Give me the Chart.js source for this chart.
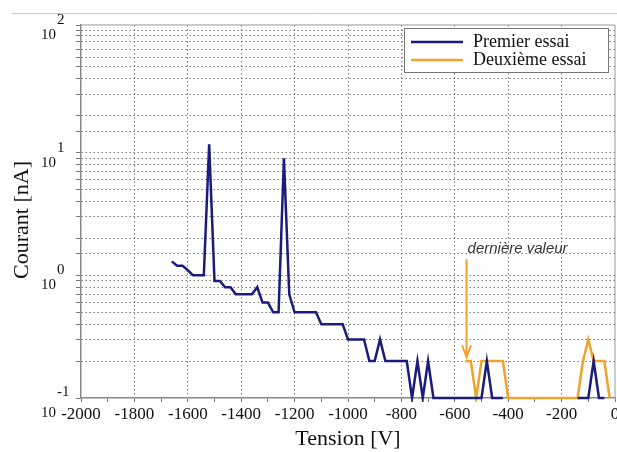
<!DOCTYPE html>
<html>
<head>
<meta charset="utf-8">
<script src="https://cdn.jsdelivr.net/npm/chart.js@4.4.0/dist/chart.umd.min.js"></script>
<style>
  html, body { margin: 0; padding: 0; background: #fff; }
</style>
</head>
<body>
<canvas id="courantChart" width="617" height="452"></canvas>
<script>
// Premier essai (bleu) - tension [V] / courant [nA], null = pas de valeur (0 nA)
const tensionEssai1 = [-1660, -1640, -1620, -1600, -1580, -1560, -1540, -1520, -1500, -1480,
  -1460, -1440, -1420, -1400, -1380, -1360, -1340, -1320, -1300, -1280,
  -1260, -1240, -1220, -1200, -1180, -1160, -1140, -1120, -1100, -1080,
  -1060, -1040, -1020, -1000, -980, -960, -940, -920, -900, -880,
  -860, -840, -820, -800, -780, -760, -740, -720, -700, -680,
  -660, -640, -620, -600, -580, -560, -540, -520, -500, -480,
  -460, -440, -420, -400, -140, -120, -100, -80, -60, -40];
const courantEssai1 = [1.3, 1.2, 1.2, 1.1, 1.0, 1.0, 1.0, 11.7, 0.9, 0.9,
  0.8, 0.8, 0.7, 0.7, 0.7, 0.7, 0.8, 0.6, 0.6, 0.5,
  0.5, 9.0, 0.7, 0.5, 0.5, 0.5, 0.5, 0.5, 0.4, 0.4,
  0.4, 0.4, 0.4, 0.3, 0.3, 0.3, 0.3, 0.2, 0.2, 0.3,
  0.2, 0.2, 0.2, 0.2, 0.2, 0.1, 0.2, 0.1, 0.2, 0.1,
  0.1, 0.1, 0.1, 0.1, 0.1, 0.1, 0.1, 0.1, 0.1, 0.2,
  0.1, 0.1, 0.1, null, 0.1, 0.1, 0.1, 0.2, 0.1, 0.1];

// Deuxième essai (orange)
const tensionEssai2 = [-560, -540, -520, -500, -480, -460, -440, -420, -400, -380,
  -360, -340, -320, -300, -280, -260, -240, -220, -200, -180,
  -160, -140, -120, -100, -80, -60, -40, -20];
const courantEssai2 = [0.2, 0.2, 0.1, 0.2, 0.2, 0.2, 0.2, 0.2, 0.1, 0.1,
  0.1, 0.1, 0.1, 0.1, 0.1, 0.1, 0.1, 0.1, 0.1, 0.1,
  0.1, 0.1, 0.2, 0.3, 0.2, 0.2, 0.2, 0.1];

const nomsSeries = ["Premier essai", "Deuxième essai"];
const exposantsY = [-1, 0, 1, 2];          // étiquettes 10^n de l'axe Y
const titreX = "Tension [V]";
const titreY = "Courant [nA]";

// annotation "dernière valeur" (en unités des données)
const annotTexte = "dernière valeur";
const annotTension = -556;
const annotCourantHaut = 1.35;
const annotCourantBas = 0.215;
const annotCourantTexte = 1.52;

const toPoints = (xs, ys) => xs.map((x, i) => ({ x: x, y: ys[i] }));

const SERIF = "'Liberation Serif', 'Times New Roman', serif";

// ✅ Plugin : cadre, étiquettes Y en puissances de 10, titre Y, annotation, légende
const decorPlugin = {
  id: "decor",
  beforeDatasetsDraw: (chart) => {
    const { ctx, chartArea: a } = chart;
    ctx.save();
    ctx.strokeStyle = "#999";
    ctx.lineWidth = 1;
    ctx.beginPath();
    ctx.moveTo(a.left, a.top);
    ctx.lineTo(a.right, a.top);
    ctx.lineTo(a.right, a.bottom);
    ctx.stroke();
    ctx.restore();
  },
  afterDraw: (chart) => {
    const { ctx } = chart;
    const y = chart.scales.y;
    const x = chart.scales.x;
    ctx.save();

    // trait gris en haut de la page
    ctx.strokeStyle = "#c8c8c8";
    ctx.lineWidth = 1;
    ctx.beginPath();
    ctx.moveTo(12, 13.5);
    ctx.lineTo(617, 13.5);
    ctx.stroke();

    // étiquettes 10^n
    ctx.fillStyle = "#111";
    ctx.textBaseline = "middle";
    exposantsY.forEach((n, i) => {
      const py = y.getPixelForValue(Math.pow(10, n));
      let dTen = 10, dExp = -5;
      if (i === 0) { dTen = 15; dExp = -5.5; }
      if (i === exposantsY.length - 1) { dTen = 5; dExp = -10; }
      ctx.font = "15px " + SERIF;
      ctx.textAlign = "right";
      ctx.fillText("10", 56, py + dTen);
      ctx.textAlign = "left";
      ctx.fillText(String(n), 57, py + dExp);
    });

    // titre Y
    ctx.save();
    ctx.translate(22, 220);
    ctx.rotate(-Math.PI / 2);
    ctx.font = "22px " + SERIF;
    ctx.textAlign = "center";
    ctx.textBaseline = "middle";
    ctx.fillStyle = "#111";
    ctx.fillText(titreY, 0, 0);
    ctx.restore();

    // annotation flèche + texte
    const ax = x.getPixelForValue(annotTension);
    const yTop = y.getPixelForValue(annotCourantHaut);
    const yTip = y.getPixelForValue(annotCourantBas);
    ctx.strokeStyle = "#f2a22c";
    ctx.lineWidth = 2;
    ctx.beginPath();
    ctx.moveTo(ax, yTop);
    ctx.lineTo(ax, yTip);
    ctx.moveTo(ax - 4.5, yTip - 12);
    ctx.lineTo(ax, yTip);
    ctx.lineTo(ax + 4.5, yTip - 12);
    ctx.stroke();
    ctx.font = "italic 15px 'Liberation Sans', Arial, sans-serif";
    ctx.fillStyle = "#333";
    ctx.textAlign = "left";
    ctx.textBaseline = "alphabetic";
    ctx.fillText(annotTexte, ax + 1, y.getPixelForValue(annotCourantTexte));

    // légende encadrée
    const lx = 404, ly = 28, lw = 204, lh = 44;
    ctx.fillStyle = "#fff";
    ctx.fillRect(lx, ly, lw, lh);
    ctx.strokeStyle = "#777";
    ctx.lineWidth = 1;
    ctx.strokeRect(lx + 0.5, ly + 0.5, lw, lh);
    ctx.font = "18px " + SERIF;
    ctx.textBaseline = "middle";
    chart.data.datasets.forEach((ds, i) => {
      const yy = ly + 14 + i * 18;
      ctx.strokeStyle = ds.borderColor;
      ctx.lineWidth = 2.5;
      ctx.beginPath();
      ctx.moveTo(lx + 7, yy);
      ctx.lineTo(lx + 59, yy);
      ctx.stroke();
      ctx.fillStyle = "#111";
      ctx.fillText(ds.label, lx + 69, yy);
    });

    ctx.restore();
  }
};

const ctx = document.getElementById("courantChart").getContext("2d");
const courantChart = new Chart(ctx, {
  type: "line",
  data: {
    datasets: [
      {
        label: nomsSeries[0],
        data: toPoints(tensionEssai1, courantEssai1),
        borderColor: "#1b1b7c",
        borderWidth: 2.5,
        pointRadius: 0,
        tension: 0,
        spanGaps: false,
        clip: 4,
        fill: false
      },
      {
        label: nomsSeries[1],
        data: toPoints(tensionEssai2, courantEssai2),
        borderColor: "#f2a22c",
        borderWidth: 2.5,
        pointRadius: 0,
        tension: 0,
        clip: 4,
        fill: false
      }
    ]
  },
  options: {
    responsive: false,
    animation: false,
    devicePixelRatio: 1,
    layout: { padding: { top: 25, right: 2, left: 0, bottom: 0 } },
    plugins: {
      legend: { display: false },
      tooltip: { enabled: false },
      title: { display: false }
    },
    scales: {
      x: {
        type: "linear",
        min: -2000,
        max: 0,
        afterFit: (s) => { s.height = 54; s.paddingLeft = 0; s.paddingRight = 2; },
        ticks: {
          stepSize: 100,
          autoSkip: false,
          maxRotation: 0,
          padding: 2,
          color: "#111",
          font: { family: SERIF, size: 17 },
          callback: (v) => (v % 200 === 0 ? String(v) : "")
        },
        grid: {
          color: (c) => (c.tick && c.tick.value % 200 === 0 && c.tick.value > -2000 && c.tick.value < 0 ? "#7a7a7a" : "rgba(0,0,0,0)"),
          lineWidth: 1,
          tickLength: 4,
          tickColor: "#777"
        },
        border: { display: true, color: "#888", width: 1.5, dash: [1.5, 2.5] },
        title: {
          display: true,
          text: titreX,
          color: "#111",
          padding: 0,
          font: { family: SERIF, size: 22 }
        }
      },
      y: {
        type: "logarithmic",
        min: 0.1,
        max: 110,
        afterFit: (s) => { s.width = 81; },
        ticks: { display: false },
        grid: {
          color: (c) => (c.tick && c.tick.value > 0.1 && c.tick.value < 110 ? "#7a7a7a" : "rgba(0,0,0,0)"),
          lineWidth: 1,
          tickLength: 5,
          tickColor: "#777"
        },
        border: { display: true, color: "#888", width: 1.5, dash: [1.5, 2.5] }
      }
    }
  },
  plugins: [decorPlugin]
});
</script>
</body>
</html>
